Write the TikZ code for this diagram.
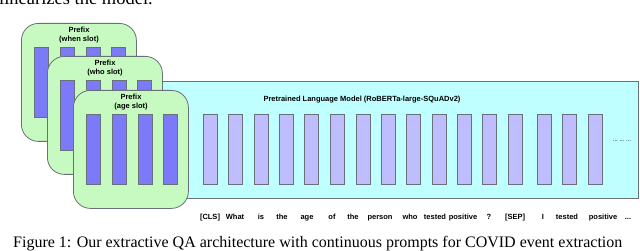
\documentclass[tikz,border=0pt]{standalone}
\usepackage{fontspec}
\setmainfont{Liberation Serif}
\setsansfont{Liberation Sans}
\usepackage{xcolor}
\usetikzlibrary{positioning}
\definecolor{prefixgreen}{RGB}{198,250,192}
\definecolor{barblue}{RGB}{123,123,250}
\definecolor{tokblue}{RGB}{190,190,255}
\definecolor{lmcyan}{RGB}{192,255,255}
\definecolor{edgegray}{RGB}{105,112,120}

\begin{document}
\begin{tikzpicture}[x=1pt, y=-1pt,
  prefixbox/.style={draw=edgegray, line width=0.8pt, fill=prefixgreen, rounded corners=17pt, minimum width=115pt, minimum height=118pt, inner sep=0pt, anchor=north west},
  prefixbar/.style={draw=edgegray, line width=0.8pt, fill=barblue, minimum width=14pt, minimum height=70pt, inner sep=0pt, anchor=north west},
  tokbar/.style={draw=edgegray, line width=0.8pt, fill=tokblue, minimum width=14pt, minimum height=70pt, inner sep=0pt, anchor=north west},
  lmbox/.style={draw=edgegray, line width=0.8pt, fill=lmcyan, minimum width=488pt, minimum height=117pt, inner sep=0pt, anchor=north west},
  lbl/.style={font=\sffamily\bfseries\fontsize{7.5}{9.5}\selectfont, align=center, inner sep=0pt},
  word/.style={font=\sffamily\bfseries\fontsize{7.5}{9}\selectfont, inner sep=0pt, anchor=base},
  prose/.style={font=\fontsize{16}{18}\selectfont, inner sep=0pt}
]
\clip (0,0) rectangle (640,251);
\node[prose, font=\fontsize{18.5}{20}\selectfont, anchor=base east] (prevline) at (153,5) {linearizes the model.};

% language model
\node[lmbox] (lm) at (150,81) {};
\node[lbl] (lmtitle) at (362,100) {Pretrained Language Model (RoBERTa-large-SQuADv2)};
\foreach \x [count=\i] in {203,228,254,279,304,330,356,381,406,432,457,482,508,537,562,588}
  \node[tokbar] (tok\i) at (\x,114) {};
\node[font=\sffamily\fontsize{6}{6}\selectfont, inner sep=0pt] (more) at (622,141) {.{}.{}.\ .{}.{}.\ .{}.{}.};

% prefixes, back to front
\foreach \s/\bx/\by [count=\k] in {when/21/23, who/47/56, age/73/90} {
  \node[prefixbox] (prefix\k) at (\bx,\by) {};
  \node[lbl] (prefixlbl\k) at (\bx+58,\by+12) {Prefix\\(\s\ slot)};
  \foreach \o [count=\j] in {13,39,65,90}
    \node[prefixbar] (pbar\k\j) at (\bx+\o,\by+24) {};
}

% input tokens
\foreach \w/\x [count=\i] in {{[CLS]}/210, What/235, is/261, the/282, age/307, of/332, the/353, person/380, who/410, tested/435, positive/463, ?/489, {[SEP]}/515, I/543, tested/567, positive/603, {.{}.{}.}/628}
  \node[word] (word\i) at (\x,219.5) {\w};

\node[prose, anchor=base west] (caption) at (13,247) {Figure 1: Our extractive QA architecture with continuous prompts for COVID event extraction};
\end{tikzpicture}
\end{document}
